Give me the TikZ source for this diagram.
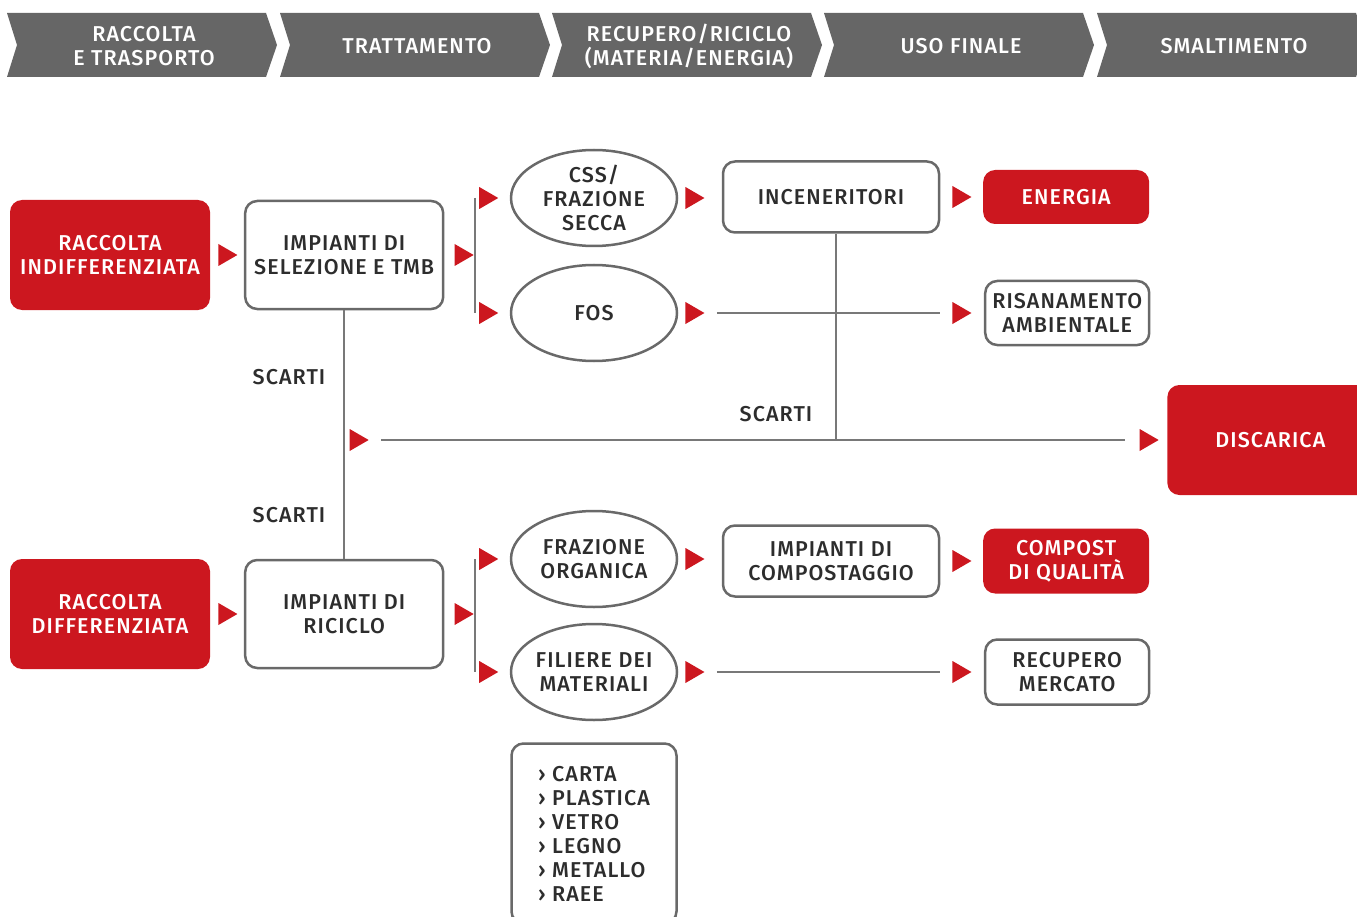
\documentclass[tikz,border=0pt]{standalone}
\usepackage{fontspec}
\setmainfont{Fira Sans}[UprightFont={* Medium}, LetterSpace=5]
\usetikzlibrary{positioning,shapes.geometric}
\definecolor{wred}{RGB}{204,23,31}
\definecolor{hdgray}{RGB}{102,102,102}
\definecolor{boxgray}{RGB}{105,105,105}
\definecolor{linegray}{RGB}{120,120,120}
\definecolor{txtgray}{RGB}{45,45,45}
\tikzset{
  base/.style={
    align=center,
    inner sep=0pt,
    font=\fontsize{21.5}{24}\selectfont,
    text=txtgray,
  },
  red box/.style 2 args={
    base,
    fill=wred,
    text=white,
    rounded corners=12pt,
    minimum width=#1pt,
    minimum height=#2pt,
  },
  white box/.style 2 args={
    base,
    draw=boxgray,
    line width=2.5pt,
    fill=white,
    rounded corners=12pt,
    minimum width=#1pt,
    minimum height=#2pt,
  },
  oval/.style={
    base,
    ellipse,
    draw=boxgray,
    line width=2.5pt,
    minimum width=166pt,
    minimum height=96pt,
  },
  marker/.style={
    isosceles triangle,
    isosceles triangle stretches,
    fill=wred,
    inner sep=0pt,
    minimum width=22pt,
    minimum height=19pt,
  },
  line/.style={
    draw=linegray,
    line width=1.5pt,
  },
  note/.style={
    base,
  }
}

\begin{document}
\begin{tikzpicture}[x=1pt, y=-1pt]
        \useasboundingbox (0,0) rectangle (1357,917);
        \clip (0,0) rectangle (1357,917);

        % phases
        \foreach \x/\txt [count=\i] in {7/{RACCOLTA\\E TRASPORTO}, 280/TRATTAMENTO,
            552/{RECUPERO/RICICLO\\(MATERIA/ENERGIA)}, 824/USO FINALE, 1097/SMALTIMENTO} {
          \fill[hdgray] (\x,13) -- (\x+259,13) -- (\x+270,45) -- (\x+259,77)
            -- (\x,77) -- (\x+10,45) -- cycle;
          \node [base, text=white] (h\i) at (\x+137,46) {\txt};
        }

        % indifferenziata
        \node [red box={200}{110}] (rind) at (110,255) {RACCOLTA\\INDIFFERENZIATA};
        \node [marker, right=8pt of rind] (m1) {};
        \node [white box={198}{108}, right=6pt of m1] (sel) {IMPIANTI DI\\SELEZIONE E TMB};
        \node [marker, right=10pt of sel] (m2) {};

        \node [oval] (css) at (594,198) {CSS/\\FRAZIONE\\SECCA};
        \node [oval] (fos) at (594,313) {FOS};
        \node [marker, left=11pt of css] (mc1) {};
        \node [marker, left=11pt of fos] (mf1) {};
        \node [marker, right=7pt of css] (mc2) {};
        \node [marker, right=7pt of fos] (mf2) {};

        \node [white box={216}{71}] (inc) at (831,197) {INCENERITORI};
        \node [marker, right=12pt of inc] (mc3) {};
        \node [red box={166}{54}, right=11pt of mc3] (ene) {ENERGIA};
        \node [marker] (mf3) at (mc3 |- fos) {};
        \node [white box={164}{64}, right=12pt of mf3] (ris) {RISANAMENTO\\AMBIENTALE};

        \draw [line] ([xshift=-4pt]mc1.west) -- ([xshift=-4pt]mf1.west);
        \draw [line] (m2.east) -- ([xshift=-4pt]m2.east -| mc1.west);
        \draw [line, shorten <=12pt, shorten >=12pt] (mf2.east) -- (mf3.west);

        % scarti
        \node [marker] (ms1) at (356,440) {};
        \node [marker] (ms2) at (1146,440) {};
        \node [red box={206}{110}, right=8pt of ms2] (disc) {DISCARICA};
        \draw [line, shorten <=12pt, shorten >=14pt] (ms1.east) -- (ms2.west);
        \draw [line] ([xshift=5pt]inc.south) -- ([xshift=5pt]inc.south |- ms1);
        \node [note] (sc1) at (289,377) {SCARTI};
        \node [note] (sc2) at (289,515) {SCARTI};
        \node [note] (sc3) at (776,414) {SCARTI};

        % differenziata
        \node [red box={200}{110}] (rdif) at (110,614) {RACCOLTA\\DIFFERENZIATA};
        \node [marker, right=8pt of rdif] (m3) {};
        \node [white box={198}{108}, right=6pt of m3] (ric) {IMPIANTI DI\\RICICLO};
        \node [marker, right=10pt of ric] (m4) {};
        \draw [line] (sel) -- (ric);

        \node [oval] (org) at (594,559) {FRAZIONE\\ORGANICA};
        \node [oval] (fil) at (594,672) {FILIERE DEI\\MATERIALI};
        \node [marker, left=11pt of org] (mo1) {};
        \node [marker, left=11pt of fil] (mm1) {};
        \node [marker, right=7pt of org] (mo2) {};
        \node [marker, right=7pt of fil] (mm2) {};

        \node [white box={216}{71}] (comp) at (831,561) {IMPIANTI DI\\COMPOSTAGGIO};
        \node [marker, right=12pt of comp] (mo3) {};
        \node [red box={166}{65}, right=11pt of mo3] (cq) {COMPOST\\DI QUALITÀ};
        \node [marker] (mm3) at (mo3 |- fil) {};
        \node [white box={164}{65}, right=12pt of mm3] (rec) {RECUPERO\\MERCATO};

        \draw [line] ([xshift=-4pt]mo1.west) -- ([xshift=-4pt]mm1.west);
        \draw [line] (m4.east) -- ([xshift=-4pt]m4.east -| mo1.west);
        \draw [line, shorten <=12pt, shorten >=12pt] (mm2.east) -- (mm3.west);

        \node [white box={165}{180}, align=left, below=21pt of fil] (list)
          {› CARTA\\› PLASTICA\\› VETRO\\› LEGNO\\› METALLO\\› RAEE};
      \end{tikzpicture}
\end{document}
